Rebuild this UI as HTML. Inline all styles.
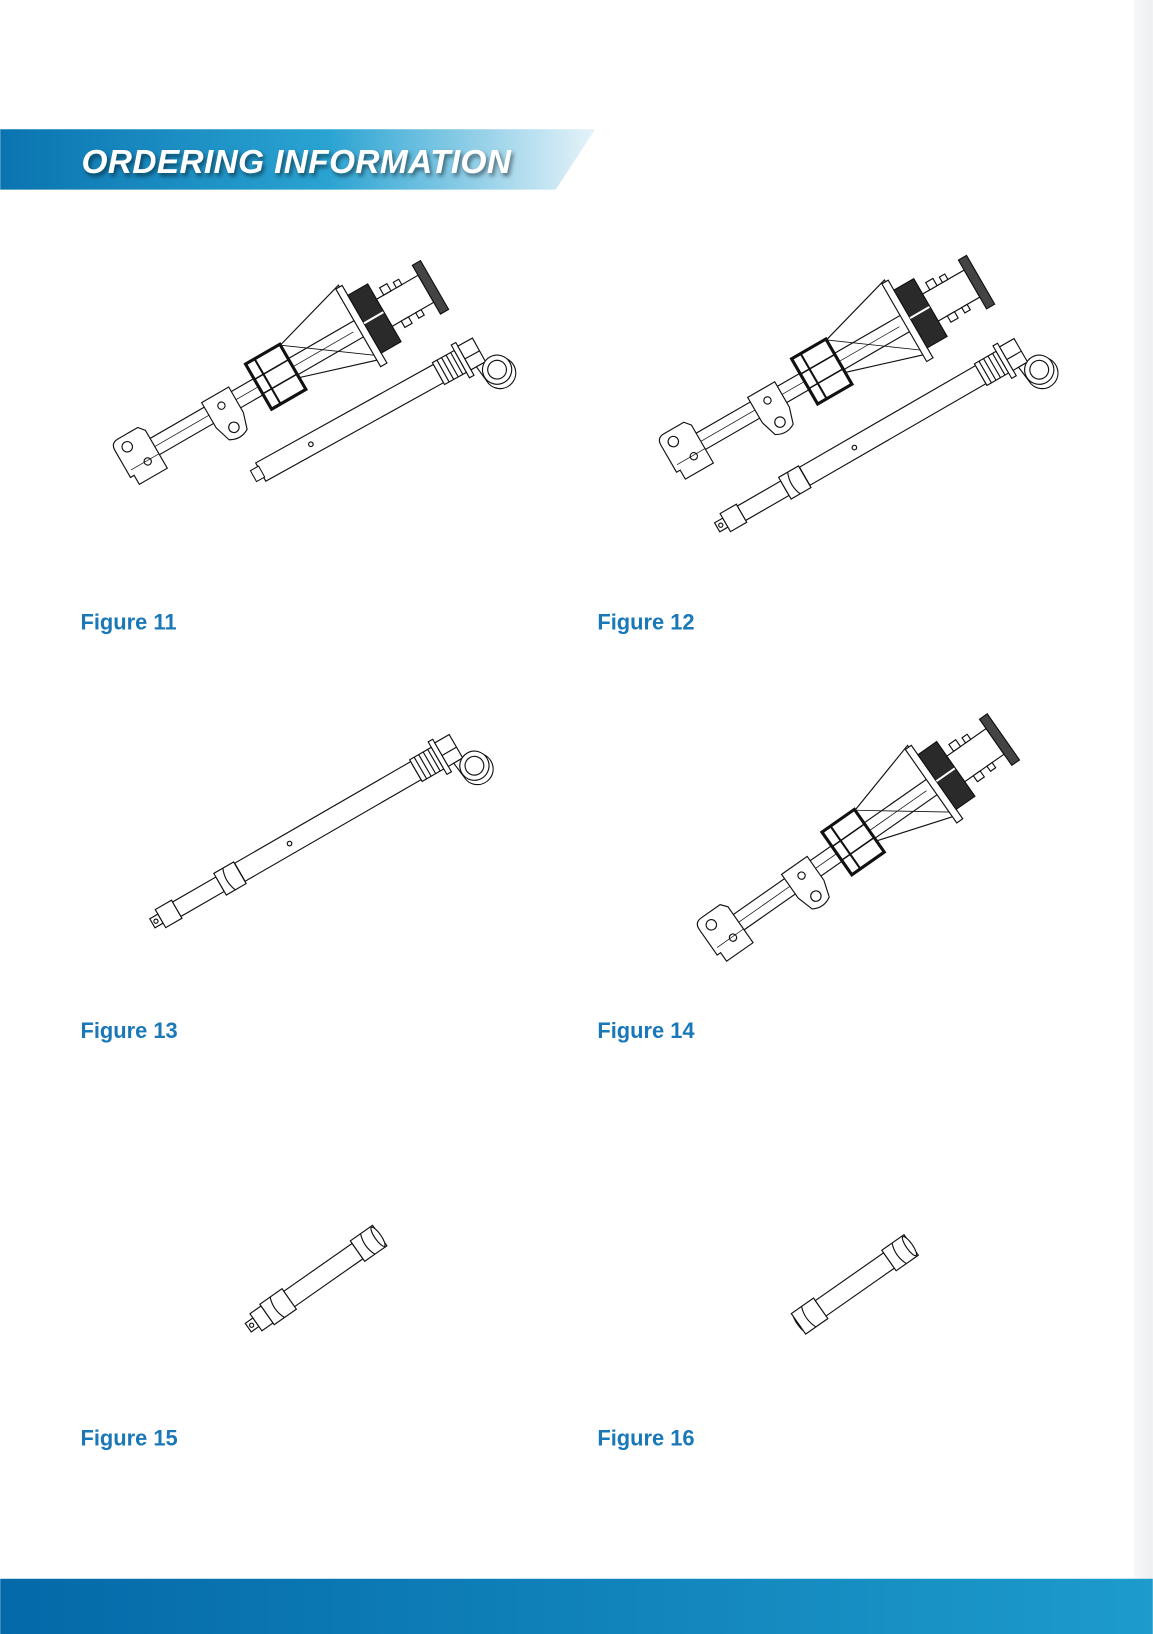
<!DOCTYPE html>
<html><head><meta charset="utf-8">
<style>
html,body{margin:0;padding:0;background:#fff;}
svg{display:block;}
</style></head>
<body>
<svg width="1153" height="1634" viewBox="0 0 1106 1568" xmlns="http://www.w3.org/2000/svg">
<defs>
<linearGradient id="ban" x1="0" x2="1" y1="0" y2="0">
<stop offset="0" stop-color="#0a74b0"/><stop offset="0.55" stop-color="#2aa3d2"/><stop offset="1" stop-color="#e6f3f9"/>
</linearGradient>
<linearGradient id="foot" x1="0" x2="1"><stop offset="0" stop-color="#0469a8"/><stop offset="1" stop-color="#1d9bcc"/></linearGradient>
<linearGradient id="side" x1="0" x2="1"><stop offset="0" stop-color="#f7f8f9"/><stop offset="1" stop-color="#eceef0"/></linearGradient>
<filter id="sh"><feDropShadow dx="2" dy="3" stdDeviation="2" flood-color="#000" flood-opacity="0.5"/></filter>

<g id="body" fill="#fff" stroke="#111" stroke-width="1.1">
 <polygon points="188,-24 265,-46 265,36 188,12"/>
 <rect x="20" y="-9" width="245" height="18"/>
 <line x1="20" y1="0" x2="255" y2="0" stroke-width="0.7"/>
 <line x1="188" y1="-24" x2="262" y2="30" stroke-width="0.8"/>
 <path d="M0,-16 Q0,-24 8,-24 L30,-24 L35,-18 L35,24 L4,24 L4,14 L0,14 Z"/>
 <circle cx="12" cy="-13" r="5"/><circle cx="22" cy="9" r="3.5"/>
 <line x1="4" y1="8" x2="35" y2="8" stroke-width="0.7"/>
 <path d="M95,-14 L125,-14 L125,14 L120,30 Q110,36 100,30 L95,14 Z"/>
 <circle cx="110" cy="-2" r="3.5"/><circle cx="110" cy="22" r="5"/>
 <rect x="150" y="-25" width="38" height="50" stroke-width="3"/>
 <line x1="150" y1="-8" x2="188" y2="-8" stroke-width="1.5"/><line x1="150" y1="8" x2="188" y2="8" stroke-width="1.5"/>
 <line x1="160" y1="-25" x2="160" y2="25" stroke-width="2"/>
 <rect x="261" y="-44" width="7" height="86"/>
 <rect x="268" y="-33" width="22" height="64" fill="#2a2a2a"/>
 <line x1="268" y1="-2" x2="290" y2="-2" stroke="#fff" stroke-width="2"/>
 <rect x="290" y="-16" width="46" height="30"/>
 <rect x="298" y="-24" width="8" height="8"/><rect x="312" y="-22" width="6" height="6"/>
 <rect x="300" y="14" width="8" height="7"/><rect x="316" y="14" width="6" height="6"/>
 <rect x="336" y="-27" width="9" height="54" fill="#444"/>
</g>

<g id="rod" fill="#fff" stroke="#111" stroke-width="1.1">
 <rect x="0" y="-10" width="195" height="20"/>
 <circle cx="55" cy="0" r="2.2"/>
 <rect x="195" y="-12" width="24" height="24"/>
 <line x1="200" y1="-12" x2="200" y2="12"/><line x1="205" y1="-12" x2="205" y2="12"/><line x1="210" y1="-12" x2="210" y2="12"/><line x1="215" y1="-12" x2="215" y2="12"/>
 <rect x="219" y="-18" width="5" height="36"/>
 <rect x="224" y="-14" width="16" height="26"/>
 <line x1="224" y1="0" x2="240" y2="0"/>
 <path d="M230,12 L242,12 L258,18 A15,15 0 1 1 232,28 Z"/>
 <circle cx="246" cy="24" r="14"/><circle cx="246" cy="24" r="9"/>
</g>

<g id="ext" fill="#fff" stroke="#111" stroke-width="1.1">
 <rect x="0" y="-5" width="9" height="10"/><circle cx="4" cy="0" r="2"/>
 <rect x="9" y="-10" width="18" height="20"/>
 <rect x="27" y="-8" width="48" height="16"/>
 <rect x="75" y="-12" width="22" height="24"/>
 <path d="M85,-12 Q80,0 85,12" />
</g>

<g id="sm" fill="#fff" stroke="#111" stroke-width="1.1">
 <rect x="22" y="-12" width="26" height="24"/>
 <path d="M34,-12 Q29,0 34,12"/>
 <rect x="48" y="-9" width="80" height="18"/>
 <rect x="128" y="-12" width="26" height="24"/>
 <path d="M140,-12 Q135,0 140,12"/>
 <ellipse cx="152" cy="0" rx="3" ry="11"/>
</g>
</defs>

<rect x="1088" y="0" width="18" height="1568" fill="url(#side)"/>
<polygon points="0,124 571,124 533,182 0,182" fill="url(#ban)"/>
<text x="78" y="166" font-family="Liberation Sans, sans-serif" font-size="32" font-weight="bold" font-style="italic" fill="#fff" filter="url(#sh)" letter-spacing="0.4">ORDERING INFORMATION</text>

<!-- Fig 11 -->
<use href="#body" transform="translate(118,446) rotate(-30)"/>
<use href="#rod" transform="translate(250,453) rotate(-29)"/>
<g transform="translate(250,453) rotate(-29)" fill="#fff" stroke="#111"><rect x="-8" y="-6" width="9" height="12"/></g>

<!-- Fig 12 -->
<use href="#body" transform="translate(642,441) rotate(-30)"/>
<use href="#ext" transform="translate(688,506) rotate(-30)"/>
<use href="#rod" transform="translate(772,457) rotate(-30)"/>

<!-- Fig 13 -->
<use href="#ext" transform="translate(146,886) rotate(-30)"/>
<use href="#rod" transform="translate(230,837) rotate(-30)"/>

<!-- Fig 14 -->
<use href="#body" transform="translate(680,905) rotate(-35)"/>

<!-- Fig 15 -->
<g transform="translate(238,1274) rotate(-35)">
 <g fill="#fff" stroke="#111" stroke-width="1.1"><rect x="0" y="-5" width="9" height="10"/><circle cx="4" cy="0" r="2"/><rect x="9" y="-10" width="13" height="20"/></g>
 <use href="#sm"/>
</g>

<!-- Fig 16 -->
<g transform="translate(748,1283) rotate(-35)">
 <g fill="#fff" stroke="#111" stroke-width="1.1"><ellipse cx="24" cy="0" rx="3" ry="11"/></g>
 <use href="#sm"/>
</g>

<g font-family="Liberation Sans, sans-serif" font-size="21" font-weight="bold" fill="#1a78b8">
<text x="77" y="604">Figure 11</text>
<text x="573" y="604">Figure 12</text>
<text x="77" y="996">Figure 13</text>
<text x="573" y="996">Figure 14</text>
<text x="77" y="1387">Figure 15</text>
<text x="573" y="1387">Figure 16</text>
</g>

<rect x="0" y="1515" width="1106" height="53" fill="url(#foot)"/>
</svg>
</body></html>
